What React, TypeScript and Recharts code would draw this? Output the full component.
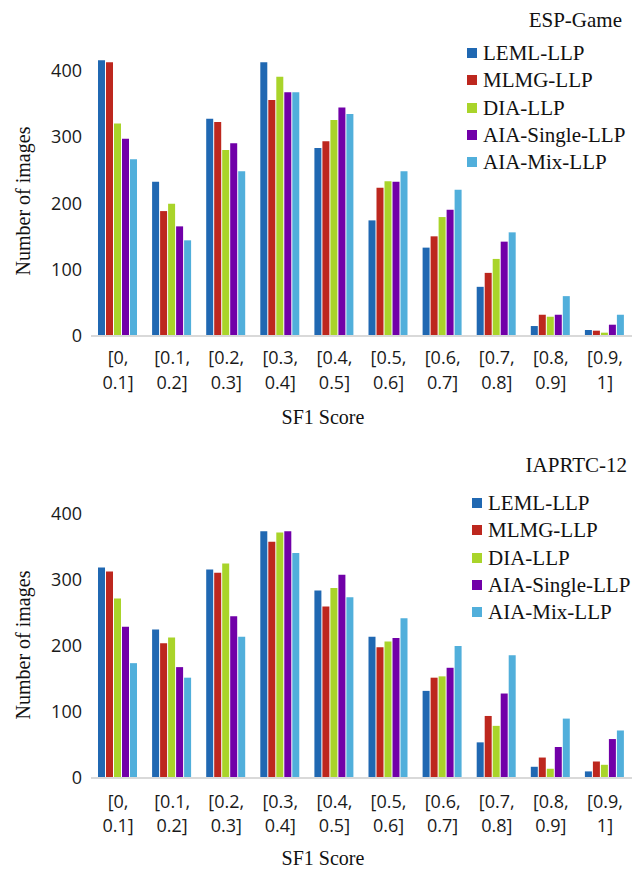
import React from 'react';
import { BarChart, Bar, XAxis, YAxis } from 'recharts';

const categories = ['[0, 0.1]', '[0.1, 0.2]', '[0.2, 0.3]', '[0.3, 0.4]', '[0.4, 0.5]', '[0.5, 0.6]', '[0.6, 0.7]', '[0.7, 0.8]', '[0.8, 0.9]', '[0.9, 1]'];
const seriesNames = ['LEML-LLP', 'MLMG-LLP', 'DIA-LLP', 'AIA-Single-LLP', 'AIA-Mix-LLP'];
const seriesColors = ['#2068b2', '#bd271e', '#a9d42a', '#7100a8', '#51afdb'];
const yTicks = [0, 100, 200, 300, 400];

// ESP-Game
const espLeml = [415, 232, 327, 412, 283, 174, 133, 74, 15, 9];
const espMlmg = [412, 188, 322, 355, 293, 223, 150, 95, 32, 8];
const espDia = [320, 199, 280, 390, 325, 233, 179, 116, 29, 5];
const espSingle = [297, 165, 290, 367, 344, 232, 190, 142, 32, 17];
const espMix = [266, 144, 248, 367, 334, 248, 220, 156, 60, 32];

// IAPRTC-12
const iapLeml = [319, 225, 316, 374, 284, 214, 132, 54, 17, 10];
const iapMlmg = [313, 204, 311, 358, 260, 198, 152, 94, 31, 25];
const iapDia = [272, 213, 325, 372, 288, 207, 154, 79, 14, 20];
const iapSingle = [229, 168, 245, 374, 308, 212, 167, 128, 47, 59];
const iapMix = [174, 152, 214, 341, 274, 242, 200, 186, 90, 72];

const buildRows = (cols: number[][]) =>
  categories.map((c, i) => {
    const row: any = { cat: c };
    seriesNames.forEach((n, k) => (row[n] = cols[k][i]));
    return row;
  });

const espData = buildRows([espLeml, espMlmg, espDia, espSingle, espMix]);
const iapData = buildRows([iapLeml, iapMlmg, iapDia, iapSingle, iapMix]);

const sans = "'Open Sans', 'Liberation Sans', sans-serif";
const serif = "'Liberation Serif', 'Times New Roman', serif";

const makeTick = (first: number, gap: number) => (props: any) => {
  const { x, y, payload } = props;
  const [a, b] = String(payload.value).split(' ');
  return (
    <text x={x} y={y} textAnchor="middle" fill="#1a1a1a" fontFamily={sans} fontSize={18}>
      <tspan x={x} dy={first}>{a}</tspan>
      <tspan x={x} dy={gap}>{b}</tspan>
    </text>
  );
};

interface PanelProps {
  title: string;
  data: any[];
  top: number;
  height: number;
  plotTop: number;
  axisHeight: number;
  titleY: number;
  titleRight: number;
  legendX: number;
  legendY: number;
  yLabelY: number;
  xLabelY: number;
  tickFirst: number;
  tickGap: number;
}

function Panel(p: PanelProps) {
  return (
    <div style={{ position: 'absolute', left: 0, top: p.top, width: 639, height: p.height }}>
      <BarChart
        width={639}
        height={p.height}
        data={p.data}
        margin={{ top: p.plotTop, right: 7, left: 0, bottom: 0 }}
        barCategoryGap={7}
        barGap={1}
      >
        <XAxis
          dataKey="cat"
          height={p.axisHeight}
          tickSize={0}
          tickMargin={0}
          interval={0}
          tickLine={false}
          axisLine={{ stroke: '#d9d9d9', strokeWidth: 2 }}
          tick={makeTick(p.tickFirst, p.tickGap)}
        />
        <YAxis
          width={91}
          domain={[0, 450]}
          ticks={yTicks}
          tickSize={0}
          tickMargin={9}
          tickLine={false}
          axisLine={false}
          tick={{ fill: '#1a1a1a', fontFamily: sans, fontSize: 18 }}
        />
        {seriesNames.map((n, k) => (
          <Bar key={n} dataKey={n} name={n} fill={seriesColors[k]} isAnimationActive={false} />
        ))}
      </BarChart>
      <div
        style={{
          position: 'absolute',
          right: 639 - p.titleRight,
          top: p.titleY - 13,
          fontFamily: serif,
          fontSize: 21,
          lineHeight: '26px',
          color: '#111',
        }}
      >
        {p.title}
      </div>
      <div style={{ position: 'absolute', left: p.legendX, top: p.legendY - 13.5 }}>
        {seriesNames.map((n, k) => (
          <div key={n} style={{ display: 'flex', alignItems: 'center', height: 27.3 }}>
            <span style={{ width: 10, height: 10, background: seriesColors[k], marginRight: 6, display: 'inline-block' }} />
            <span style={{ fontFamily: serif, fontSize: 21, color: '#111', lineHeight: '26px' }}>{n}</span>
          </div>
        ))}
      </div>
      <div
        style={{
          position: 'absolute',
          left: 23 - 100,
          top: p.yLabelY - 13,
          width: 200,
          textAlign: 'center',
          transform: 'rotate(-90deg)',
          fontFamily: serif,
          fontSize: 20,
          lineHeight: '26px',
          color: '#111',
        }}
      >
        Number of images
      </div>
      <div
        style={{
          position: 'absolute',
          left: 323 - 100,
          top: p.xLabelY - 13,
          width: 200,
          textAlign: 'center',
          fontFamily: serif,
          fontSize: 20,
          lineHeight: '26px',
          color: '#111',
        }}
      >
        SF1 Score
      </div>
    </div>
  );
}

export default function App() {
  return (
    <div style={{ position: 'absolute', left: 0, top: 0, width: 639, height: 869, background: '#fff' }}>
      <Panel
        title="ESP-Game"
        data={espData}
        top={0}
        height={440}
        plotTop={37}
        axisHeight={104}
        titleY={20}
        titleRight={622}
        legendX={467}
        legendY={53}
        yLabelY={201}
        xLabelY={417}
        tickFirst={28}
        tickGap={25}
      />
      <Panel
        title="IAPRTC-12"
        data={iapData}
        top={440}
        height={429}
        plotTop={41}
        axisHeight={91}
        titleY={25}
        titleRight={627}
        legendX={472}
        legendY={63}
        yLabelY={205}
        xLabelY={418}
        tickFirst={30}
        tickGap={24}
      />
    </div>
  );
}
